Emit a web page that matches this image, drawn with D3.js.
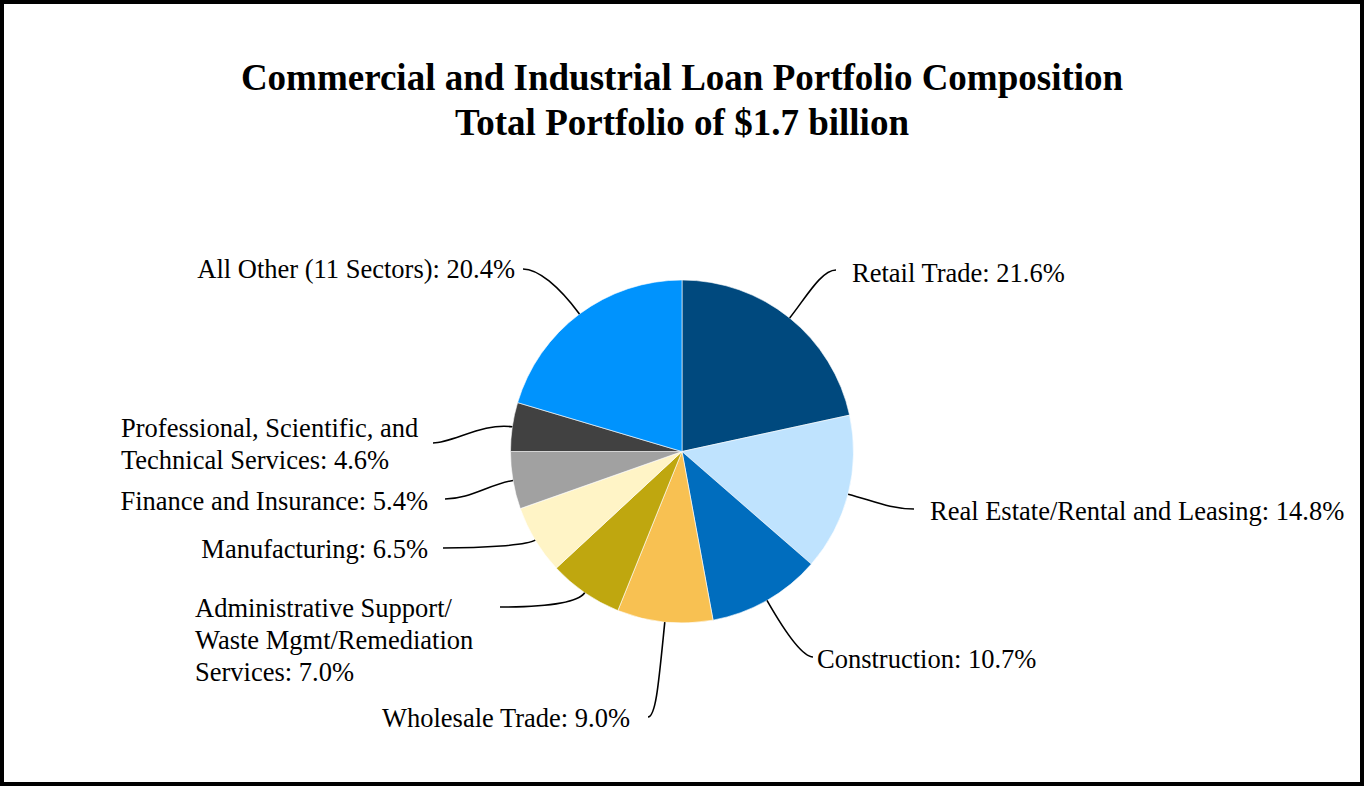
<!DOCTYPE html>
<html>
<head>
<meta charset="utf-8">
<script src="https://cdn.jsdelivr.net/npm/d3@7"></script>
<style>
  html, body { margin: 0; padding: 0; background: #fff; }
  svg { display: block; }
</style>
</head>
<body>
<svg id="chart" width="1364" height="786"></svg>
<script>
// ---- data ----
const titleLines = ["Commercial and Industrial Loan Portfolio Composition", "Total Portfolio of $1.7 billion"];
const categories = [
  "Retail Trade",
  "Real Estate/Rental and Leasing",
  "Construction",
  "Wholesale Trade",
  "Administrative Support/Waste Mgmt/Remediation Services",
  "Manufacturing",
  "Finance and Insurance",
  "Professional, Scientific, and Technical Services",
  "All Other (11 Sectors)"
];
const values = [21.6, 14.8, 10.7, 9.0, 7.0, 6.5, 5.4, 4.6, 20.4];
const labelLines = [
  ["Retail Trade: 21.6%"],
  ["Real Estate/Rental and Leasing: 14.8%"],
  ["Construction: 10.7%"],
  ["Wholesale Trade: 9.0%"],
  ["Administrative Support/", "Waste Mgmt/Remediation", "Services: 7.0%"],
  ["Manufacturing: 6.5%"],
  ["Finance and Insurance: 5.4%"],
  ["Professional, Scientific, and", "Technical Services: 4.6%"],
  ["All Other (11 Sectors): 20.4%"]
];

// ---- styles / layout ----
const colors = ["#00497E", "#BFE3FE", "#006DBE", "#F8C152", "#BFA70F", "#FFF4C6", "#A1A1A1", "#414141", "#0093FD"];
const W = 1364, H = 786;
const cx = 682, cy = 451.5, R = 171.5;
const fontFamily = "'Liberation Serif', 'Times New Roman', serif";
// leader end point, control lengths, label position
const leaderLayout = [
  {ex: 836, ey: 270, k1: 25, k2: 15, lx: 852, ly: 282, anchor: "start"},
  {ex: 914, ey: 509, k1: 25, k2: 25, lx: 930, ly: 520, anchor: "start"},
  {ex: 813, ey: 657, k1: 40, k2: 10, lx: 817, ly: 668, anchor: "start"},
  {ex: 648, ey: 717, k1: 60, k2: 8,  lx: 630, ly: 727, anchor: "end"},
  {ex: 500, ey: 607, k1: 12, k2: 50, lx: 195, ly: 617, anchor: "start"},
  {ex: 443, ey: 548, k1: 10, k2: 40, lx: 428, ly: 558, anchor: "end"},
  {ex: 445, ey: 499, k1: 25, k2: 25, lx: 428, ly: 510, anchor: "end"},
  {ex: 433, ey: 443, k1: 30, k2: 20, lx: 121, ly: 437, anchor: "start"},
  {ex: 523, ey: 269, k1: 35, k2: 15, lx: 515, ly: 278, anchor: "end"}
];

const svg = d3.select("#chart");

// border
svg.append("rect")
  .attr("x", 2).attr("y", 2).attr("width", W - 4).attr("height", H - 4)
  .attr("fill", "#fff").attr("stroke", "#000").attr("stroke-width", 4);

// title
svg.append("text")
  .attr("x", cx).attr("text-anchor", "middle")
  .attr("font-family", fontFamily).attr("font-weight", "bold").attr("font-size", 37)
  .selectAll("tspan").data(titleLines).join("tspan")
  .attr("x", cx).attr("y", (d, i) => 90 + i * 45)
  .text(d => d);

// pie
const pie = d3.pie().sort(null).value(d => d)(values);
const arc = d3.arc().innerRadius(0).outerRadius(R);
const g = svg.append("g").attr("transform", `translate(${cx},${cy})`);
g.selectAll("path.slice").data(pie).join("path")
  .attr("class", "slice")
  .attr("d", arc)
  .attr("fill", (d, i) => colors[i])
  .attr("stroke", "#fff").attr("stroke-width", 0.6);

// leaders
const leaders = svg.append("g");
pie.forEach((d, i) => {
  const L = leaderLayout[i];
  const a = (d.startAngle + d.endAngle) / 2;
  const ux = Math.sin(a), uy = -Math.cos(a);
  const sx = cx + R * ux, sy = cy + R * uy;
  const hdir = L.ex >= sx ? 1 : -1;
  const p = d3.path();
  p.moveTo(sx, sy);
  p.bezierCurveTo(sx + ux * L.k1, sy + uy * L.k1, L.ex - hdir * L.k2, L.ey, L.ex, L.ey);
  leaders.append("path").attr("d", p.toString())
    .attr("fill", "none").attr("stroke", "#000").attr("stroke-width", 1.6);
});

// labels
const labels = svg.append("g")
  .attr("font-family", fontFamily).attr("font-size", 26.5).attr("fill", "#000");
labelLines.forEach((lines, i) => {
  const L = leaderLayout[i];
  const t = labels.append("text").attr("text-anchor", L.anchor);
  t.selectAll("tspan").data(lines).join("tspan")
    .attr("x", L.lx).attr("y", (d, j) => L.ly + j * 32)
    .text(d => d);
});
</script>
</body>
</html>
